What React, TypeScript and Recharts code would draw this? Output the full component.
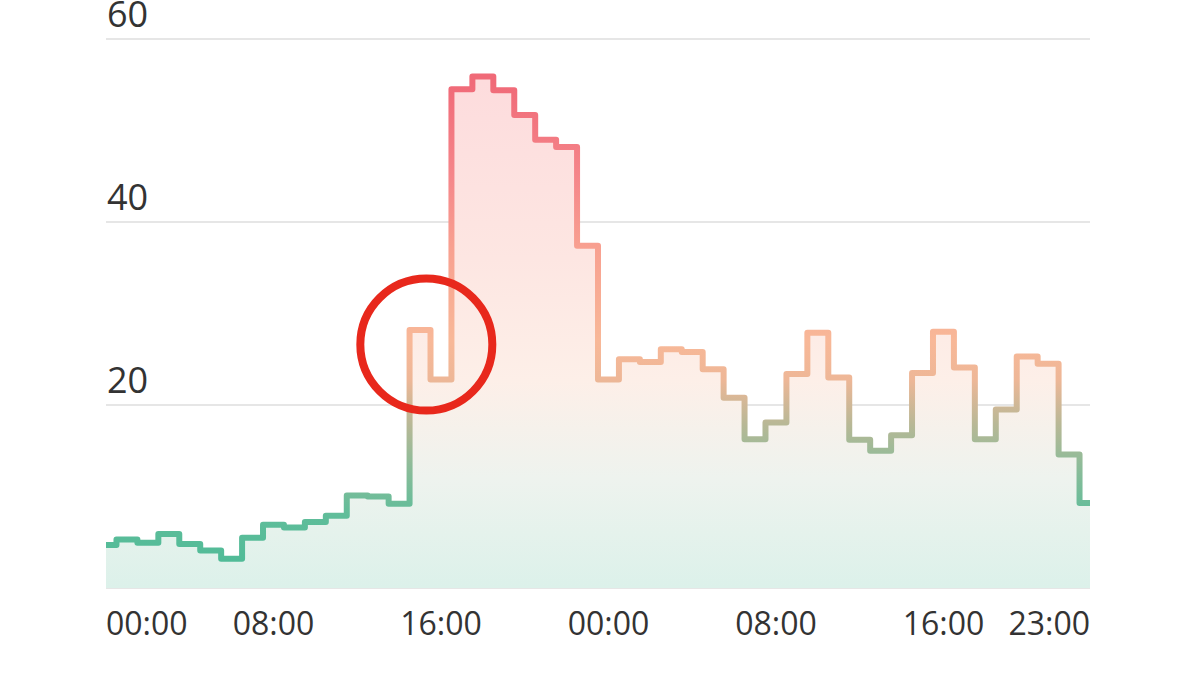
import React from "react";
import {
  ComposedChart,
  Area,
  XAxis,
  YAxis,
  CartesianGrid,
  ReferenceDot,
} from "recharts";

// hourly readings, 00:00 day one to 23:00 day two
const values = [
  4.7, 5.3, 4.95, 5.9, 4.8, 4.1, 3.2, 5.5, 6.9, 6.6, 7.2, 7.9,
  10.1, 10.0, 9.2, 28.2, 22.8, 54.5, 55.9, 54.4, 51.7, 49.0, 48.2, 37.4,
  22.8, 25.0, 24.7, 26.1, 25.8, 23.9, 20.8, 16.25, 18.1, 23.4, 27.9, 23.0,
  16.2, 15.0, 16.7, 23.5, 28.0, 24.1, 16.25, 19.5, 25.3, 24.5, 14.6, 9.3,
];

const xTicks = [0, 8, 16, 24, 32, 40, 47];
const xTickLabels = ["00:00", "08:00", "16:00", "00:00", "08:00", "16:00", "23:00"];
const yTicks = [20, 40, 60];

// highlighted spot (hour, value)
const highlight = { h: 15.3, v: 26.6 };

const data = values.map((v, h) => ({ h, v }));

const W = 1200;
const H = 675;
const PLOT_LEFT = 106;
const PLOT_TOP = 39;
const PLOT_BOTTOM = 588;
const FONT = "'Open Sans', 'Noto Sans', sans-serif";

const YTick = (props: any) => {
  const { y, payload } = props;
  return (
    <text
      x={PLOT_LEFT + 1}
      y={y - 12}
      textAnchor="start"
      fontSize={36}
      fontFamily={FONT}
      fill="#333"
    >
      {payload.value}
    </text>
  );
};

const XTick = (props: any) => {
  const { x, payload } = props;
  const i = xTicks.indexOf(payload.value);
  const anchor = i === 0 ? "start" : i === xTicks.length - 1 ? "end" : "middle";
  return (
    <text
      x={x}
      y={PLOT_BOTTOM + 47}
      textAnchor={anchor}
      fontSize={32}
      fontFamily={FONT}
      fill="#333"
    >
      {xTickLabels[i]}
    </text>
  );
};

export default function App() {
  return (
    <div style={{ position: "absolute", left: 0, top: 0, width: W, height: H, background: "#fff" }}>
      <ComposedChart
        width={W}
        height={H}
        data={data}
        margin={{ top: PLOT_TOP, right: 110, bottom: 0, left: PLOT_LEFT - 10 }}
      >
        <defs>
          <linearGradient id="lineGrad" gradientUnits="userSpaceOnUse" x1="0" y1={PLOT_TOP} x2="0" y2={PLOT_BOTTOM}>
            <stop offset="0.08" stopColor="#f06a78" />
            <stop offset="0.25" stopColor="#f5868a" />
            <stop offset="0.38" stopColor="#f8a090" />
            <stop offset="0.55" stopColor="#f8b898" />
            <stop offset="0.62" stopColor="#eeb797" />
            <stop offset="0.70" stopColor="#b9b896" />
            <stop offset="0.78" stopColor="#8cbc99" />
            <stop offset="0.87" stopColor="#5fbd9a" />
            <stop offset="1" stopColor="#48ba96" />
          </linearGradient>
          <linearGradient id="fillGrad" gradientUnits="userSpaceOnUse" x1="0" y1={PLOT_TOP} x2="0" y2={PLOT_BOTTOM}>
            <stop offset="0.08" stopColor="#fddcdd" />
            <stop offset="0.4" stopColor="#fde6e2" />
            <stop offset="0.62" stopColor="#fdefe8" />
            <stop offset="0.8" stopColor="#eef3ee" />
            <stop offset="1" stopColor="#dcf1ea" />
          </linearGradient>
        </defs>
        <CartesianGrid vertical={false} stroke="#e6e6e6" strokeWidth={2} />
        <XAxis
          dataKey="h"
          type="number"
          domain={[0, 47]}
          ticks={xTicks}
          axisLine={false}
          tickLine={false}
          height={87}
          tick={<XTick />}
          interval={0}
        />
        <YAxis
          type="number"
          domain={[0, 60]}
          ticks={yTicks}
          width={10}
          axisLine={false}
          tickLine={false}
          tick={<YTick />}
          interval={0}
        />
        <Area
          type="step"
          dataKey="v"
          stroke="url(#lineGrad)"
          strokeWidth={6}
          strokeLinejoin="round"
          fill="url(#fillGrad)"
          fillOpacity={1}
          dot={false}
          activeDot={false}
          isAnimationActive={false}
        />
        <ReferenceDot
          x={highlight.h}
          y={highlight.v}
          r={66}
          fill="none"
          stroke="#e8281c"
          strokeWidth={8}
        />
      </ComposedChart>
    </div>
  );
}
